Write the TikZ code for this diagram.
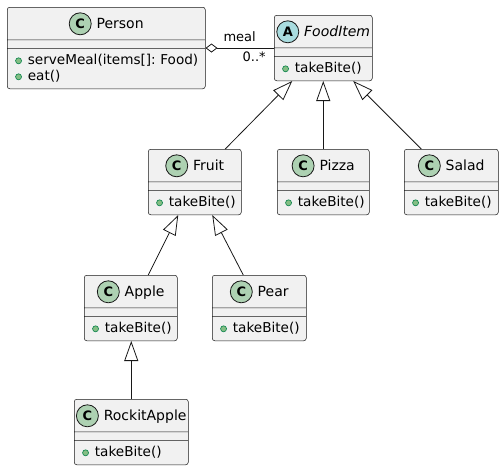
\documentclass[tikz,border=0pt]{standalone}
\usepackage{fontspec}
\setmainfont{DejaVu Sans}
\usetikzlibrary{shapes.multipart,arrows.meta}
\frenchspacing

\definecolor{linec}{HTML}{181818}
\definecolor{boxfill}{HTML}{F1F1F1}
\definecolor{ccirc}{HTML}{ADD1B2}
\definecolor{acirc}{HTML}{A9DCDF}
\definecolor{bulfill}{HTML}{84BE84}
\definecolor{buldraw}{HTML}{038048}

% Class header parts
\newcommand{\classicon}[2]{\tikz[baseline=-4.7pt]\node[circle,anchor=center,text width=,align=center,draw=linec,fill=#2,line width=0.8pt,minimum size=22pt,inner sep=0pt,font=\fontsize{13}{13}\selectfont\bfseries]{#1};}
\newcommand{\classhead}[3]{\noindent\makebox[\hsize][c]{\classicon{#1}{#2}\hspace{5pt}{\fontsize{14}{16}\selectfont #3}\rule[-11pt]{0pt}{32pt}}}
\newcommand{\emptypart}{\rule{0pt}{8pt}}
\newcommand{\methodbul}{\tikz[baseline=-3.7pt]\draw[draw=buldraw,fill=bulfill,line width=0.6pt] (0pt,0pt) circle (3pt);}
\newcommand{\method}[1]{\hspace*{8pt}\methodbul\hspace{6pt}#1}

\begin{document}
\begin{tikzpicture}[x=1pt,y=-1pt]
		% Styles
		\tikzstyle{umlclass} = [rectangle split, rectangle split parts=3, draw=linec, fill=boxfill, line width=0.5pt, rounded corners=2.5pt, inner xsep=0pt, inner ysep=0pt, align=left, anchor=north west, font=\fontsize{13.6}{16}\selectfont]
		\tikzstyle{inherit} = [line width=0.8pt, draw=linec, -{Triangle[open,length=20pt,width=14pt]}]
		\tikzstyle{aggregate} = [line width=0.8pt, draw=linec, {Diamond[open,length=12pt,width=9pt]}-]
		\tikzstyle{role} = [font=\fontsize{13}{13}\selectfont, inner sep=0pt]
		\useasboundingbox (0,0) rectangle (503,469);
		% Classes
		\node (person) [umlclass, text width=198pt] at (7,7) {\classhead{C}{ccirc}{Person}\nodepart{two}\emptypart\nodepart{three}\method{serveMeal(items[]: Food)}\rule{0pt}{16pt}\\\method{eat()}\rule[-8pt]{0pt}{8pt}};
		\node (fooditem) [umlclass, text width=98pt] at (274,15) {\classhead{A}{acirc}{\itshape FoodItem}\nodepart{two}\emptypart\nodepart{three}\method{takeBite()}\rule[-8pt]{0pt}{24pt}};
		\node (fruit) [umlclass, text width=93pt] at (148,149) {\classhead{C}{ccirc}{Fruit}\nodepart{two}\emptypart\nodepart{three}\method{takeBite()}\rule[-8pt]{0pt}{24pt}};
		\node (pizza) [umlclass, text width=92pt] at (277,149) {\classhead{C}{ccirc}{Pizza}\nodepart{two}\emptypart\nodepart{three}\method{takeBite()}\rule[-8pt]{0pt}{24pt}};
		\node (salad) [umlclass, text width=94pt] at (404,149) {\classhead{C}{ccirc}{Salad}\nodepart{two}\emptypart\nodepart{three}\method{takeBite()}\rule[-8pt]{0pt}{24pt}};
		\node (apple) [umlclass, text width=93pt] at (84,275) {\classhead{C}{ccirc}{Apple}\nodepart{two}\emptypart\nodepart{three}\method{takeBite()}\rule[-8pt]{0pt}{24pt}};
		\node (pear) [umlclass, text width=94pt] at (212,275) {\classhead{C}{ccirc}{Pear}\nodepart{two}\emptypart\nodepart{three}\method{takeBite()}\rule[-8pt]{0pt}{24pt}};
		\node (rockit) [umlclass, text width=114pt] at (74,399) {\classhead{C}{ccirc}{RockitApple}\nodepart{two}\emptypart\nodepart{three}\method{takeBite()}\rule[-8pt]{0pt}{24pt}};
		% Links
		\draw [aggregate] (person.east) -- node (meal) [role, pos=0.74, anchor=base east, yshift=6.5pt] {meal} node (mult) [role, pos=0.885, anchor=base east, yshift=-13.7pt] {0..*} (fooditem.west);
		\draw [inherit] ([xshift=30.5pt]fruit.north) -- ([xshift=-31pt]fooditem.south);
		\draw [inherit] (pizza.north) -- (fooditem.south);
		\draw [inherit] ([xshift=-30pt]salad.north) -- ([xshift=30pt]fooditem.south);
		\draw [inherit] ([xshift=17.5pt]apple.north) -- ([xshift=-16.5pt]fruit.south);
		\draw [inherit] ([xshift=-16pt]pear.north) -- ([xshift=17.5pt]fruit.south);
		\draw [inherit] (rockit.north) -- ([xshift=0.5pt]apple.south);
	\end{tikzpicture}
\end{document}
